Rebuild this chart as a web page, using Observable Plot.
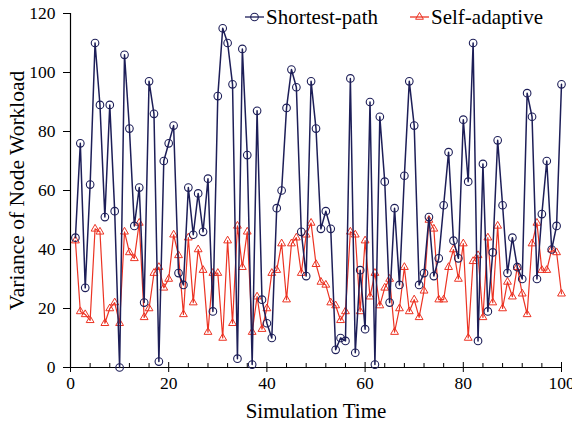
<!DOCTYPE html>
<html><head><meta charset="utf-8">
<script src="https://cdn.jsdelivr.net/npm/d3@7"></script>
<script src="https://cdn.jsdelivr.net/npm/@observablehq/plot@0.6"></script>
<style>html,body{margin:0;padding:0;background:#fff}svg{display:block}</style>
</head><body><div id="chart"></div>
<script>
const time = [1,2,3,4,5,6,7,8,9,10,11,12,13,14,15,16,17,18,19,20,21,22,23,24,25,26,27,28,29,30,31,32,33,34,35,36,37,38,39,40,41,42,43,44,45,46,47,48,49,50,51,52,53,54,55,56,57,58,59,60,61,62,63,64,65,66,67,68,69,70,71,72,73,74,75,76,77,78,79,80,81,82,83,84,85,86,87,88,89,90,91,92,93,94,95,96,97,98,99,100];
const shortestPath = [44,76,27,62,110,89,51,89,53,0,106,81,48,61,22,97,86,2,70,76,82,32,28,61,45,59,46,64,19,92,115,110,96,3,108,72,1,87,23,15,10,54,60,88,101,95,46,31,97,81,47,53,47,6,10,9,98,5,33,13,90,1,85,63,22,54,28,65,97,82,28,32,51,31,37,55,73,43,37,84,63,110,9,69,19,39,77,55,32,44,34,30,93,85,30,52,70,40,48,96];
const selfAdaptive = [43,19,18,16,47,46,15,20,22,15,46,39,37,49,17,20,32,34,27,30,45,38,18,44,22,40,33,12,32,32,10,43,15,48,34,46,12,24,13,20,32,33,42,23,42,44,32,45,49,35,29,28,22,21,16,19,46,45,19,43,24,32,21,27,30,12,20,34,19,23,17,26,50,47,23,23,34,40,30,42,10,36,38,17,44,22,48,20,29,24,34,25,18,42,49,33,33,40,39,25];
const seriesNames = ["Shortest-path", "Self-adaptive"];
const xMajorTicks = [0,20,40,60,80,100];
const xMinorTicks = [4,8,12,16,24,28,32,36,44,48,52,56,64,68,72,76,84,88,92,96];
const yTicks = [0,20,40,60,80,100,120];
const xTitle = "Simulation Time";
const yTitle = "Variance of Node Workload";

const navy = "#1d1e58";
const red = "#ec3323";
const font = "'Liberation Serif','Times New Roman',serif";

const dataSP = time.map((t, i) => ({t, v: shortestPath[i]}));
const dataSA = time.map((t, i) => ({t, v: selfAdaptive[i]}));

const plot = Plot.plot({
  width: 572, height: 423,
  marginLeft: 70, marginRight: 11, marginTop: 13, marginBottom: 56,
  style: {fontFamily: font, fontSize: "17.5px", color: "#000", background: "#fff", overflow: "visible"},
  x: {domain: [0, 100]},
  y: {domain: [0, 120]},
  marks: [
    Plot.axisY({ticks: yTicks, tickSize: 7, tickPadding: 8, label: null, fontSize: 17.5, stroke: "#000"}),
    Plot.axisX({ticks: xMajorTicks, tickSize: 5, tickPadding: 4, label: null, fontSize: 17.5, stroke: "#000"}),
    Plot.ruleX(xMajorTicks, {x: d => d, y1: 0, y2: 0, insetTop: -5, insetBottom: 0, stroke: "#000"}),
    Plot.ruleX(xMinorTicks, {x: d => d, y1: 0, y2: 0, insetTop: -4, insetBottom: 0, stroke: "#000"}),
    Plot.ruleX([0], {stroke: "#000", strokeWidth: 1.2}),
    Plot.ruleY([0], {stroke: "#000", strokeWidth: 1.2}),
    Plot.line(dataSA, {x: "t", y: "v", stroke: red, strokeWidth: 1.2}),
    Plot.dot(dataSA, {x: "t", y: "v", symbol: "triangle", r: 2.9, stroke: red, strokeWidth: 1, fill: "none"}),
    Plot.line(dataSP, {x: "t", y: "v", stroke: navy, strokeWidth: 1.5}),
    Plot.dot(dataSP, {x: "t", y: "v", r: 3.8, stroke: navy, strokeWidth: 1.1, fill: "none"}),
    Plot.text([xTitle], {frameAnchor: "bottom", lineAnchor: "middle", textAnchor: "middle", dy: 44, fontSize: 21, fill: "#000"}),
    Plot.text([yTitle], {frameAnchor: "left", lineAnchor: "middle", textAnchor: "middle", dx: -53, rotate: -90, fontSize: 21.5, fill: "#000"})
  ]
});

// legend
const svg = d3.select(plot);
const lg = svg.append("g").attr("font-family", font).attr("font-size", 21).attr("text-anchor", "start");
const items = [
  {name: seriesNames[0], color: navy, x: 245, sym: d3.symbolCircle, size: Math.PI * 3.8 * 3.8, sw: 1.1},
  {name: seriesNames[1], color: red, x: 410, sym: d3.symbolTriangle, size: Math.PI * 2.9 * 2.9, sw: 1}
];
for (const it of items) {
  const g = lg.append("g").attr("transform", `translate(${it.x},17)`);
  g.append("line").attr("x1", 0).attr("x2", 19).attr("y1", 0).attr("y2", 0)
    .attr("stroke", it.color).attr("stroke-width", 1.3);
  g.append("path").attr("d", d3.symbol(it.sym, it.size)()).attr("transform", "translate(9.5,0)")
    .attr("fill", "none").attr("stroke", it.color).attr("stroke-width", it.sw);
  g.append("text").attr("x", 21).attr("y", 0).attr("dy", "0.35em").attr("fill", "#000")
    .attr("text-anchor", "start").text(it.name);
}
document.getElementById("chart").appendChild(plot);
</script>
</body></html>
